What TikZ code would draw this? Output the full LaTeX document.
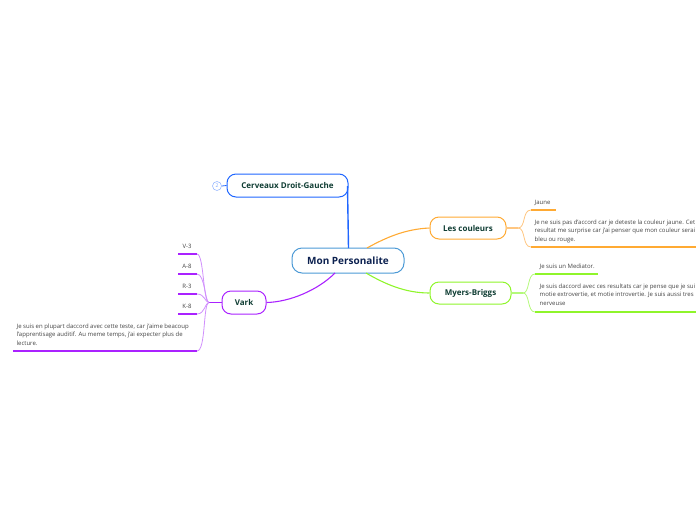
\documentclass[tikz,border=0pt]{standalone}
\usepackage{fontspec}
\setmainfont{Open Sans}
\definecolor{cblue}{HTML}{1F66FF}
\definecolor{rootline}{HTML}{4C9AD6}
\definecolor{corange}{HTML}{FFAA33}
\definecolor{cgreen}{HTML}{8FF52B}
\definecolor{cpurple}{HTML}{AA22FF}
\definecolor{lorange}{HTML}{FFC680}
\definecolor{lgreen}{HTML}{B4F97A}
\definecolor{lpurple}{HTML}{D08FFC}
\definecolor{roottext}{HTML}{0C2150}
\definecolor{maintext}{HTML}{0F3D33}
\definecolor{leaftext}{HTML}{444444}
\tikzset{
 x=1pt,y=-1pt,
 central/.style={draw=rootline,line width=1pt,rounded corners=10pt,fill=white,inner sep=0pt,font=\fontsize{10}{12}\selectfont\bfseries,text=roottext},
 mainbox/.style={draw=#1,line width=1pt,rounded corners=9pt,fill=white,inner sep=0pt,font=\fontsize{8}{10}\selectfont\bfseries,text=maintext},
 leaf/.style={anchor=north west,inner sep=0pt,align=left,font=\fontsize{6}{8.6}\selectfont,text=leaftext},
 conn/.style={line width=1.1pt,draw=#1},
 branch/.style={line width=.8pt,draw=#1},
 under/.style={line width=1.2pt,draw=#1},
}
\begin{document}
\begin{tikzpicture}
\useasboundingbox (0,0) rectangle (696,520);
% nodes
\node[central,minimum width=112pt,minimum height=25pt] (root) at (348,260.5) {Mon Personalite};
\node[mainbox=cblue,minimum width=121pt,minimum height=23pt] (cerv) at (287.5,185.5) {Cerveaux Droit-Gauche};
\node[mainbox=corange,minimum width=76pt,minimum height=22pt] (coul) at (468,228) {Les couleurs};
\node[mainbox=cgreen,minimum width=81pt,minimum height=22pt] (myers) at (470.5,293) {Myers-Briggs};
\node[mainbox=cpurple,minimum width=44pt,minimum height=23pt] (vark) at (244,302.5) {Vark};
\node[draw=cblue!45,line width=.6pt,circle,minimum size=9pt,inner sep=0pt,font=\fontsize{5}{5}\selectfont,text=cblue!60] (badge) at (217,186) {2};
% leaf text
\node[leaf] (t1) at (534.5,200) {Jaune};
\node[leaf] (t2) at (534.5,219.5) {Je ne suis pas d'accord car je deteste la couleur jaune. Cet\\resultat me surprise car j'ai penser que mon couleur serai\\bleu ou rouge.};
\node[leaf] (t3) at (539.5,264) {Je suis un Mediator.};
\node[leaf] (t4) at (539.5,283.5) {Je suis daccord avec ces resultats car je pense que je sui\\motie extrovertie, et motie introvertie. Je suis aussi tres\\nerveuse};
\node[leaf,anchor=north] (v1) at (187,243.5) {V-3};
\node[leaf,anchor=north] (v2) at (187,263.5) {A-8};
\node[leaf,anchor=north] (v3) at (187,283.5) {R-3};
\node[leaf,anchor=north] (v4) at (187,303.5) {K-8};
\node[leaf] (v5) at (16.5,323.5) {Je suis en plupart daccord avec cette teste, car j'aime beacoup\\l'apprentisage auditif. Au meme temps, j'ai expecter plus de\\lecture.};
% coordinates
\coordinate (a1) at (531,210); \coordinate (a1e) at (556,210);
\coordinate (a2) at (531,247); \coordinate (a2e) at (696,247);
\coordinate (b1) at (535,274); \coordinate (b1e) at (598,274);
\coordinate (b2) at (535,312); \coordinate (b2e) at (696,312);
\coordinate (c1) at (197,254); \coordinate (c1e) at (178,254);
\coordinate (c2) at (197,274); \coordinate (c2e) at (178,274);
\coordinate (c3) at (197,294); \coordinate (c3e) at (178,294);
\coordinate (c4) at (197,314); \coordinate (c4e) at (178,314);
\coordinate (c5) at (197,351); \coordinate (c5e) at (13,351);
\coordinate (rt) at (348.5,248);
\coordinate (rtr) at (367,248);
\coordinate (rbr) at (366,273);
\coordinate (rbl) at (335,273);
\coordinate (ct) at (347.5,186);
\coordinate (hub1) at (518,228);
\coordinate (hub2) at (523,293);
\coordinate (hub3) at (209,302.5);
% main connectors
\draw[conn=cblue,line width=1.4pt] (ct) -- (rt);
\draw[conn=corange] (rtr) .. controls (385,238) and (405,229) .. (coul.west);
\draw[conn=cgreen] (rbr) .. controls (385,284) and (405,293) .. (myers.west);
\draw[conn=cpurple] (rbl) .. controls (318,290) and (290,302) .. (vark.east);
\draw[conn=cblue,line width=.8pt] (badge.east) -- (cerv.west);
% branches
\draw[line width=1.4pt,lorange] (coul.east) -- (hub1);
\draw[branch=lorange] (hub1) .. controls (526,228) and (522,210) .. (a1);
\draw[branch=lorange] (hub1) .. controls (526,228) and (522,247) .. (a2);
\draw[line width=1.4pt,lgreen] (myers.east) -- (hub2);
\draw[branch=lgreen] (hub2) .. controls (530,293) and (527,274) .. (b1);
\draw[branch=lgreen] (hub2) .. controls (530,293) and (527,312) .. (b2);
\draw[line width=1.4pt,cpurple] (vark.west) -- (hub3);
\draw[branch=lpurple] (hub3) .. controls (203,302.5) and (204,254) .. (c1);
\draw[branch=lpurple] (hub3) .. controls (205,302.5) and (205,274) .. (c2);
\draw[branch=lpurple] (hub3) .. controls (205,302.5) and (205,294) .. (c3);
\draw[branch=lpurple] (hub3) .. controls (205,302.5) and (205,314) .. (c4);
\draw[branch=lpurple] (hub3) .. controls (203,302.5) and (206,351) .. (c5);
% underlines
\draw[under=corange] (a1) -- (a1e);
\draw[under=corange] (a2) -- (a2e);
\draw[under=cgreen] (b1) -- (b1e);
\draw[under=cgreen] (b2) -- (b2e);
\draw[under=cpurple] (c1) -- (c1e);
\draw[under=cpurple] (c2) -- (c2e);
\draw[under=cpurple] (c3) -- (c3e);
\draw[under=cpurple] (c4) -- (c4e);
\draw[under=cpurple] (c5) -- (c5e);
\end{tikzpicture}
\end{document}
